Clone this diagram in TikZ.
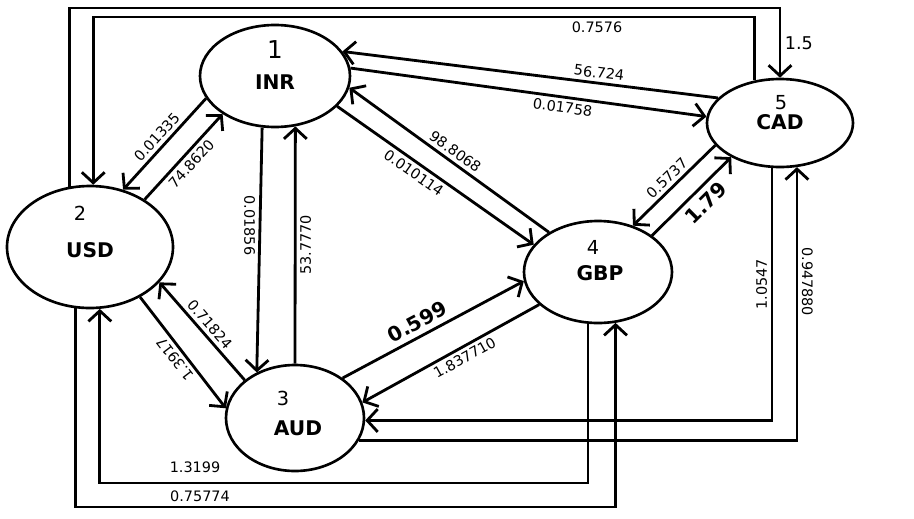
\documentclass[tikz,border=0pt]{standalone}
\usepackage{fontspec}
\setmainfont{DejaVu Sans}
\usetikzlibrary{shapes.geometric, arrows.meta}
\tikzstyle{currency} = [ellipse, draw = black, line width = 1.5pt, inner sep = 0pt]
\tikzstyle{num} = [font = \fontsize{11}{13}\selectfont]
\tikzstyle{code} = [font = \fontsize{11.5}{14}\selectfont\bfseries]
\tikzstyle{rate} = [font = \fontsize{8.2}{10}\selectfont, inner sep = 2pt]
\tikzstyle{bigrate} = [font = \fontsize{11.5}{14}\selectfont\bfseries, inner sep = 3pt]
\tikzstyle{arrow} = [line width = 1.6pt, ->, >={Straight Barb[length = 6pt, width = 13pt]}]

\begin{document}
\begin{tikzpicture}[node distance = 2cm]
    \useasboundingbox (-5.5, 1.52) rectangle (12.78, -8.84);
    \node(inr)[currency, minimum width = 3cm, minimum height = 2.04cm, label = {[num, font = \fontsize{14}{16}\selectfont, yshift = 0.52cm]center:1}, label = {[code, yshift = -0.12cm]center:INR}]{};
    \node(usd)[currency, below of = inr, xshift = -3.7cm, yshift = -1.42cm, minimum width = 3.32cm, minimum height = 2.44cm, label = {[num, xshift = -0.2cm, yshift = 0.68cm]center:2}, label = {[code, yshift = -0.06cm]center:USD}]{};
    \node(aud)[currency, below of = usd, xshift = 4.1cm, yshift = -1.42cm, minimum width = 2.76cm, minimum height = 2.12cm, label = {[num, xshift = -0.24cm, yshift = 0.4cm]center:3}, label = {[code, xshift = 0.06cm, yshift = -0.2cm]center:AUD}]{};
    \node(gbp)[currency, right of = inr, xshift = 4.46cm, yshift = -3.92cm, minimum width = 2.96cm, minimum height = 2.04cm, label = {[num, xshift = -0.1cm, yshift = 0.5cm]center:4}, label = {[code, xshift = 0.04cm, yshift = -0.02cm]center:GBP}]{};
    \node(cad)[currency, right of = inr, xshift = 8.1cm, yshift = -0.94cm, minimum width = 2.92cm, minimum height = 1.76cm, label = {[num, xshift = 0.02cm, yshift = 0.4cm]center:5}, label = {[code, yshift = 0.02cm]center:CAD}]{};

    \coordinate(topout) at (2.5, 1.36);
    \coordinate(topin) at (6.44, 1.18);
    \coordinate(botin) at (-1.6, -8.14);
    \coordinate(botout) at (-1.5, -8.62);

    \draw[arrow](inr.198)--node[rate, midway, sloped, above]{0.01335}(usd.60);
    \draw[arrow](usd.41)--node[rate, midway, sloped, below]{74.8620}(inr.216);
    \draw[arrow](inr.256)--node[rate, pos = 0.4, rotate = -90, below]{0.01856}(aud.130);
    \draw[arrow](aud.90)--node[rate, midway, rotate = 90, below]{53.7770}(inr.292);
    \draw[arrow](gbp.141)--node[rate, midway, sloped, above]{98.8068}(inr.351);
    \draw[arrow](inr.334)--node[rate, pos = 0.42, sloped, below]{0.010114}(gbp.157);
    \draw[arrow](cad.158)--node[rate, pos = 0.32, sloped, above]{56.724}(inr.20);
    \draw[arrow](inr.6)--node[rate, pos = 0.6, sloped, below]{0.01758}(cad.175);
    \draw[arrow](usd.315)--node[rate, midway, sloped, rotate = 180, above]{1.3917}(aud.172);
    \draw[arrow](aud.143)--node[rate, midway, sloped, above]{0.71824}(usd.333);
    \draw[arrow](aud.40)--node[bigrate, pos = 0.45, sloped, above]{0.599}(gbp.187);
    \draw[arrow](gbp.209)--node[rate, pos = 0.45, sloped, below]{1.837710}(aud.13);
    \draw[arrow](cad.199)--node[rate, midway, sloped, above]{0.5737}(gbp.53);
    \draw[arrow](gbp.34)--node[bigrate, pos = 0.55, sloped, below]{1.79}(cad.215);

    \draw[arrow](usd.109)|-(topout)-|node[rate, font = \fontsize{10}{12}\selectfont, pos = 0.75, right]{1.5}(cad.90);
    \draw[arrow](cad.121)|-(topin)node[rate, below]{0.7576}-|(usd.87);
    \draw[arrow](gbp.259)|-(botin)node[rate, above = 3pt]{1.3199}-|(usd.279);
    \draw[arrow](usd.257)|-(botout)node[rate, above]{0.75774}-|(gbp.289);
    \draw[arrow](cad.260)|-node[rate, pos = 0.23, rotate = 90, above]{1.0547}(aud.358);
    \draw[arrow](aud.341)-|node[rate, pos = 0.79, rotate = -90, above]{0.947880}(cad.291);
\end{tikzpicture}
\end{document}
